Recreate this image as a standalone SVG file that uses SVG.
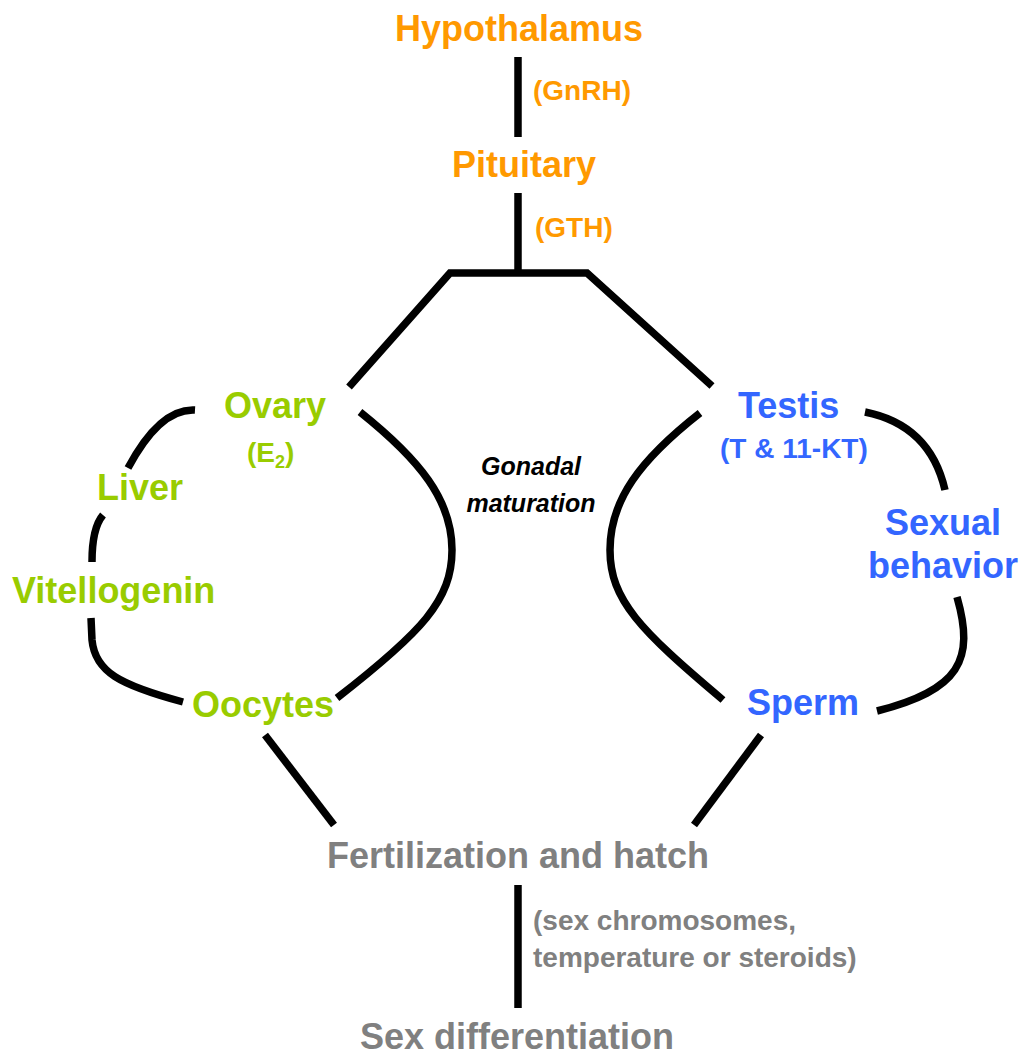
<svg xmlns="http://www.w3.org/2000/svg" width="1023" height="1057" viewBox="0 0 1023 1057">
<style>
  .lbl { font-family: "Liberation Sans", Arial, sans-serif; font-weight: bold; font-size: 36px; }
  .sub { font-family: "Liberation Sans", Arial, sans-serif; font-weight: bold; font-size: 28px; }
  .org { fill: #FF9900; }
  .grn { fill: #99CC00; }
  .blu { fill: #3366FF; }
  .gry { fill: #808080; }
  .it { font-family: "Liberation Sans", Arial, sans-serif; font-weight: bold; font-style: italic; font-size: 25px; fill: #000; }
  .ln { fill: none; stroke: #000; stroke-width: 7.5; stroke-linecap: butt; stroke-linejoin: miter; }
</style>
<rect width="1023" height="1057" fill="#fff"/>
<g id="connectors">
  <path class="ln" d="M518,57 L518,137"/>
  <path class="ln" d="M518,193 L518,273"/>
  <path class="ln" d="M349,387 L450,273 L587,273 L712,386"/>
  <path class="ln" d="M360,412 C420,460 452,500 452,550 C452,600 422,632 337,698"/>
  <path class="ln" d="M700,413 C640,460 610,500 610,550 C610,600 640,630 723,700"/>
  <path class="ln" d="M195,410 Q160,408 128,468"/>
  <path class="ln" d="M103,515 Q92,528 92,562"/>
  <path class="ln" d="M91,618 L92,640 C95,672 120,685 183,702"/>
  <path class="ln" d="M865,412 Q930,425 945,490"/>
  <path class="ln" d="M957,597 C975,660 960,690 877,711"/>
  <path class="ln" d="M265,735 L334,825"/>
  <path class="ln" d="M761,735 L694,825"/>
  <path class="ln" d="M518,885 L518,1008"/>
</g>
<g id="hypothalamus"><text class="lbl org" x="519" y="41" text-anchor="middle">Hypothalamus</text></g>
<g id="gnrh"><text class="sub org" x="533" y="100">(GnRH)</text></g>
<g id="pituitary"><text class="lbl org" x="524" y="177" text-anchor="middle">Pituitary</text></g>
<g id="gth"><text class="sub org" x="535" y="237">(GTH)</text></g>
<g id="ovary">
  <text class="lbl grn" x="275" y="418" text-anchor="middle">Ovary</text>
  <text class="sub grn" x="247" y="462">(E<tspan font-size="18" dy="6">2</tspan><tspan dy="-6">)</tspan></text>
</g>
<g id="liver"><text class="lbl grn" x="97" y="500">Liver</text></g>
<g id="vitellogenin"><text class="lbl grn" x="12" y="603">Vitellogenin</text></g>
<g id="oocytes"><text class="lbl grn" x="192" y="717">Oocytes</text></g>
<g id="testis">
  <text class="lbl blu" x="738" y="418">Testis</text>
  <text class="sub blu" x="720" y="458">(T &amp; 11-KT)</text>
</g>
<g id="sexual-behavior">
  <text class="lbl blu" x="943" y="535" text-anchor="middle">Sexual</text>
  <text class="lbl blu" x="943" y="578" text-anchor="middle">behavior</text>
</g>
<g id="sperm"><text class="lbl blu" x="747" y="715">Sperm</text></g>
<g id="gonadal-maturation">
  <text class="it" x="531" y="475" text-anchor="middle">Gonadal</text>
  <text class="it" x="531" y="512" text-anchor="middle">maturation</text>
</g>
<g id="fertilization"><text class="lbl gry" x="327" y="868">Fertilization and hatch</text></g>
<g id="factors">
  <text class="sub gry" x="533" y="930">(sex chromosomes,</text>
  <text class="sub gry" x="533" y="967">temperature or steroids)</text>
</g>
<g id="sex-differentiation"><text class="lbl gry" x="360" y="1049">Sex differentiation</text></g>
</svg>
